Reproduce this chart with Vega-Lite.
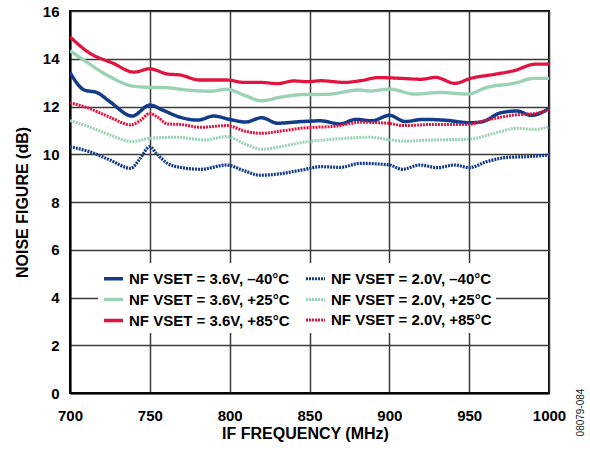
{
"$schema": "https://vega.github.io/schema/vega-lite/v6.json",
"width": 479, "height": 382,
"autosize": "none",
"padding": {"left": 70, "top": 11, "right": 41, "bottom": 57},
"background": "white",
"config": {"view": {"stroke": "black", "strokeWidth": 2}, "font": "Liberation Sans"},
"data": {"values": [
{"f":700,"v":13.42,"s":"NF VSET = 3.6V, –40°C"},{"f":709,"v":12.69,"s":"NF VSET = 3.6V, –40°C"},{"f":717,"v":12.58,"s":"NF VSET = 3.6V, –40°C"},{"f":725,"v":12.2,"s":"NF VSET = 3.6V, –40°C"},{"f":739,"v":11.6,"s":"NF VSET = 3.6V, –40°C"},{"f":750,"v":12.06,"s":"NF VSET = 3.6V, –40°C"},{"f":758,"v":11.85,"s":"NF VSET = 3.6V, –40°C"},{"f":769,"v":11.55,"s":"NF VSET = 3.6V, –40°C"},{"f":780,"v":11.43,"s":"NF VSET = 3.6V, –40°C"},{"f":790,"v":11.6,"s":"NF VSET = 3.6V, –40°C"},{"f":800,"v":11.46,"s":"NF VSET = 3.6V, –40°C"},{"f":810,"v":11.35,"s":"NF VSET = 3.6V, –40°C"},{"f":820,"v":11.53,"s":"NF VSET = 3.6V, –40°C"},{"f":830,"v":11.3,"s":"NF VSET = 3.6V, –40°C"},{"f":845,"v":11.37,"s":"NF VSET = 3.6V, –40°C"},{"f":857,"v":11.4,"s":"NF VSET = 3.6V, –40°C"},{"f":869,"v":11.27,"s":"NF VSET = 3.6V, –40°C"},{"f":879,"v":11.46,"s":"NF VSET = 3.6V, –40°C"},{"f":889,"v":11.4,"s":"NF VSET = 3.6V, –40°C"},{"f":900,"v":11.63,"s":"NF VSET = 3.6V, –40°C"},{"f":910,"v":11.37,"s":"NF VSET = 3.6V, –40°C"},{"f":921,"v":11.46,"s":"NF VSET = 3.6V, –40°C"},{"f":934,"v":11.43,"s":"NF VSET = 3.6V, –40°C"},{"f":951,"v":11.32,"s":"NF VSET = 3.6V, –40°C"},{"f":958,"v":11.36,"s":"NF VSET = 3.6V, –40°C"},{"f":970,"v":11.74,"s":"NF VSET = 3.6V, –40°C"},{"f":980,"v":11.81,"s":"NF VSET = 3.6V, –40°C"},{"f":989,"v":11.63,"s":"NF VSET = 3.6V, –40°C"},{"f":1000,"v":11.92,"s":"NF VSET = 3.6V, –40°C"},
{"f":700,"v":14.34,"s":"NF VSET = 3.6V, +25°C"},{"f":710,"v":13.88,"s":"NF VSET = 3.6V, +25°C"},{"f":725,"v":13.25,"s":"NF VSET = 3.6V, +25°C"},{"f":739,"v":12.86,"s":"NF VSET = 3.6V, +25°C"},{"f":750,"v":12.8,"s":"NF VSET = 3.6V, +25°C"},{"f":760,"v":12.79,"s":"NF VSET = 3.6V, +25°C"},{"f":773,"v":12.69,"s":"NF VSET = 3.6V, +25°C"},{"f":788,"v":12.64,"s":"NF VSET = 3.6V, +25°C"},{"f":798,"v":12.72,"s":"NF VSET = 3.6V, +25°C"},{"f":809,"v":12.48,"s":"NF VSET = 3.6V, +25°C"},{"f":820,"v":12.24,"s":"NF VSET = 3.6V, +25°C"},{"f":831,"v":12.38,"s":"NF VSET = 3.6V, +25°C"},{"f":846,"v":12.5,"s":"NF VSET = 3.6V, +25°C"},{"f":861,"v":12.51,"s":"NF VSET = 3.6V, +25°C"},{"f":881,"v":12.69,"s":"NF VSET = 3.6V, +25°C"},{"f":888,"v":12.65,"s":"NF VSET = 3.6V, +25°C"},{"f":900,"v":12.73,"s":"NF VSET = 3.6V, +25°C"},{"f":916,"v":12.52,"s":"NF VSET = 3.6V, +25°C"},{"f":932,"v":12.59,"s":"NF VSET = 3.6V, +25°C"},{"f":949,"v":12.52,"s":"NF VSET = 3.6V, +25°C"},{"f":961,"v":12.8,"s":"NF VSET = 3.6V, +25°C"},{"f":978,"v":12.97,"s":"NF VSET = 3.6V, +25°C"},{"f":991,"v":13.18,"s":"NF VSET = 3.6V, +25°C"},{"f":1000,"v":13.18,"s":"NF VSET = 3.6V, +25°C"},
{"f":700,"v":14.92,"s":"NF VSET = 3.6V, +85°C"},{"f":712,"v":14.25,"s":"NF VSET = 3.6V, +85°C"},{"f":727,"v":13.81,"s":"NF VSET = 3.6V, +85°C"},{"f":740,"v":13.44,"s":"NF VSET = 3.6V, +85°C"},{"f":750,"v":13.58,"s":"NF VSET = 3.6V, +85°C"},{"f":761,"v":13.36,"s":"NF VSET = 3.6V, +85°C"},{"f":769,"v":13.32,"s":"NF VSET = 3.6V, +85°C"},{"f":781,"v":13.11,"s":"NF VSET = 3.6V, +85°C"},{"f":798,"v":13.11,"s":"NF VSET = 3.6V, +85°C"},{"f":809,"v":13.01,"s":"NF VSET = 3.6V, +85°C"},{"f":819,"v":13.01,"s":"NF VSET = 3.6V, +85°C"},{"f":830,"v":12.96,"s":"NF VSET = 3.6V, +85°C"},{"f":840,"v":13.07,"s":"NF VSET = 3.6V, +85°C"},{"f":849,"v":13.04,"s":"NF VSET = 3.6V, +85°C"},{"f":857,"v":13.08,"s":"NF VSET = 3.6V, +85°C"},{"f":872,"v":13.01,"s":"NF VSET = 3.6V, +85°C"},{"f":882,"v":13.08,"s":"NF VSET = 3.6V, +85°C"},{"f":893,"v":13.21,"s":"NF VSET = 3.6V, +85°C"},{"f":907,"v":13.18,"s":"NF VSET = 3.6V, +85°C"},{"f":920,"v":13.14,"s":"NF VSET = 3.6V, +85°C"},{"f":929,"v":13.22,"s":"NF VSET = 3.6V, +85°C"},{"f":941,"v":12.97,"s":"NF VSET = 3.6V, +85°C"},{"f":951,"v":13.18,"s":"NF VSET = 3.6V, +85°C"},{"f":966,"v":13.35,"s":"NF VSET = 3.6V, +85°C"},{"f":978,"v":13.5,"s":"NF VSET = 3.6V, +85°C"},{"f":991,"v":13.77,"s":"NF VSET = 3.6V, +85°C"},{"f":1000,"v":13.78,"s":"NF VSET = 3.6V, +85°C"},
{"f":700,"v":10.32,"s":"NF VSET = 2.0V, –40°C"},{"f":712,"v":10.11,"s":"NF VSET = 2.0V, –40°C"},{"f":725,"v":9.76,"s":"NF VSET = 2.0V, –40°C"},{"f":738,"v":9.41,"s":"NF VSET = 2.0V, –40°C"},{"f":744,"v":9.83,"s":"NF VSET = 2.0V, –40°C"},{"f":750,"v":10.32,"s":"NF VSET = 2.0V, –40°C"},{"f":754,"v":10.04,"s":"NF VSET = 2.0V, –40°C"},{"f":761,"v":9.62,"s":"NF VSET = 2.0V, –40°C"},{"f":769,"v":9.45,"s":"NF VSET = 2.0V, –40°C"},{"f":782,"v":9.37,"s":"NF VSET = 2.0V, –40°C"},{"f":798,"v":9.55,"s":"NF VSET = 2.0V, –40°C"},{"f":809,"v":9.31,"s":"NF VSET = 2.0V, –40°C"},{"f":819,"v":9.12,"s":"NF VSET = 2.0V, –40°C"},{"f":830,"v":9.17,"s":"NF VSET = 2.0V, –40°C"},{"f":846,"v":9.35,"s":"NF VSET = 2.0V, –40°C"},{"f":857,"v":9.48,"s":"NF VSET = 2.0V, –40°C"},{"f":869,"v":9.45,"s":"NF VSET = 2.0V, –40°C"},{"f":882,"v":9.62,"s":"NF VSET = 2.0V, –40°C"},{"f":900,"v":9.55,"s":"NF VSET = 2.0V, –40°C"},{"f":908,"v":9.37,"s":"NF VSET = 2.0V, –40°C"},{"f":919,"v":9.55,"s":"NF VSET = 2.0V, –40°C"},{"f":930,"v":9.44,"s":"NF VSET = 2.0V, –40°C"},{"f":941,"v":9.55,"s":"NF VSET = 2.0V, –40°C"},{"f":950,"v":9.44,"s":"NF VSET = 2.0V, –40°C"},{"f":961,"v":9.69,"s":"NF VSET = 2.0V, –40°C"},{"f":974,"v":9.87,"s":"NF VSET = 2.0V, –40°C"},{"f":987,"v":9.9,"s":"NF VSET = 2.0V, –40°C"},{"f":1000,"v":9.97,"s":"NF VSET = 2.0V, –40°C"},
{"f":700,"v":11.41,"s":"NF VSET = 2.0V, +25°C"},{"f":712,"v":11.15,"s":"NF VSET = 2.0V, +25°C"},{"f":725,"v":10.81,"s":"NF VSET = 2.0V, +25°C"},{"f":739,"v":10.53,"s":"NF VSET = 2.0V, +25°C"},{"f":750,"v":10.67,"s":"NF VSET = 2.0V, +25°C"},{"f":767,"v":10.71,"s":"NF VSET = 2.0V, +25°C"},{"f":784,"v":10.6,"s":"NF VSET = 2.0V, +25°C"},{"f":798,"v":10.74,"s":"NF VSET = 2.0V, +25°C"},{"f":811,"v":10.39,"s":"NF VSET = 2.0V, +25°C"},{"f":820,"v":10.21,"s":"NF VSET = 2.0V, +25°C"},{"f":832,"v":10.32,"s":"NF VSET = 2.0V, +25°C"},{"f":846,"v":10.5,"s":"NF VSET = 2.0V, +25°C"},{"f":865,"v":10.63,"s":"NF VSET = 2.0V, +25°C"},{"f":888,"v":10.71,"s":"NF VSET = 2.0V, +25°C"},{"f":901,"v":10.6,"s":"NF VSET = 2.0V, +25°C"},{"f":909,"v":10.55,"s":"NF VSET = 2.0V, +25°C"},{"f":928,"v":10.6,"s":"NF VSET = 2.0V, +25°C"},{"f":950,"v":10.63,"s":"NF VSET = 2.0V, +25°C"},{"f":966,"v":10.88,"s":"NF VSET = 2.0V, +25°C"},{"f":980,"v":11.09,"s":"NF VSET = 2.0V, +25°C"},{"f":991,"v":11.04,"s":"NF VSET = 2.0V, +25°C"},{"f":1000,"v":11.15,"s":"NF VSET = 2.0V, +25°C"},
{"f":700,"v":12.16,"s":"NF VSET = 2.0V, +85°C"},{"f":712,"v":11.92,"s":"NF VSET = 2.0V, +85°C"},{"f":725,"v":11.55,"s":"NF VSET = 2.0V, +85°C"},{"f":738,"v":11.23,"s":"NF VSET = 2.0V, +85°C"},{"f":744,"v":11.41,"s":"NF VSET = 2.0V, +85°C"},{"f":750,"v":11.71,"s":"NF VSET = 2.0V, +85°C"},{"f":755,"v":11.55,"s":"NF VSET = 2.0V, +85°C"},{"f":761,"v":11.27,"s":"NF VSET = 2.0V, +85°C"},{"f":769,"v":11.25,"s":"NF VSET = 2.0V, +85°C"},{"f":782,"v":11.13,"s":"NF VSET = 2.0V, +85°C"},{"f":798,"v":11.2,"s":"NF VSET = 2.0V, +85°C"},{"f":811,"v":10.94,"s":"NF VSET = 2.0V, +85°C"},{"f":820,"v":10.88,"s":"NF VSET = 2.0V, +85°C"},{"f":832,"v":10.97,"s":"NF VSET = 2.0V, +85°C"},{"f":846,"v":11.1,"s":"NF VSET = 2.0V, +85°C"},{"f":867,"v":11.18,"s":"NF VSET = 2.0V, +85°C"},{"f":882,"v":11.34,"s":"NF VSET = 2.0V, +85°C"},{"f":899,"v":11.3,"s":"NF VSET = 2.0V, +85°C"},{"f":909,"v":11.2,"s":"NF VSET = 2.0V, +85°C"},{"f":928,"v":11.25,"s":"NF VSET = 2.0V, +85°C"},{"f":949,"v":11.25,"s":"NF VSET = 2.0V, +85°C"},{"f":961,"v":11.43,"s":"NF VSET = 2.0V, +85°C"},{"f":978,"v":11.64,"s":"NF VSET = 2.0V, +85°C"},{"f":991,"v":11.71,"s":"NF VSET = 2.0V, +85°C"},{"f":1000,"v":11.85,"s":"NF VSET = 2.0V, +85°C"}
]},
"encoding": {
"x": {"field": "f", "type": "quantitative", "scale": {"domain": [700, 1000], "nice": false, "zero": false},
 "axis": {"title": "IF FREQUENCY (MHz)", "format": "d", "values": [700,750,800,850,900,950,1000], "grid": true, "ticks": false, "labelFontWeight": "bold", "labelFontSize": 15, "labelColor": "black", "labelPadding": 15, "labelFlush": false, "titleFontSize": 16, "titleFontWeight": "bold", "titleColor": "black", "titlePadding": 2, "titleX": 235, "domainColor": "black", "domainWidth": 2, "gridColor": "#3a3a3a", "gridWidth": 1.5, "gridOpacity": 1}}
},
"layer": [
{
"mark": {"type": "line", "interpolate": "monotone", "clip": true},
"encoding": {
"y": {"field": "v", "type": "quantitative", "scale": {"domain": [0, 16], "nice": false},
 "axis": {"title": "NOISE FIGURE (dB)", "values": [0,2,4,6,8,10,12,14,16], "grid": true, "ticks": false, "labelFontWeight": "bold", "labelFontSize": 15, "labelColor": "black", "labelPadding": 11, "titleFontSize": 16, "titleFontWeight": "bold", "titleColor": "black", "titlePadding": 12, "domainColor": "black", "domainWidth": 2, "gridColor": "#3a3a3a", "gridWidth": 1.5, "gridOpacity": 1}},
"color": {"field": "s", "type": "nominal",
 "scale": {"domain": ["NF VSET = 3.6V, –40°C","NF VSET = 3.6V, +25°C","NF VSET = 3.6V, +85°C","NF VSET = 2.0V, –40°C","NF VSET = 2.0V, +25°C","NF VSET = 2.0V, +85°C"],
  "range": ["#123b88","#9bd2b6","#e0143f","#123b88","#9bd2b6","#e0143f"]},
 "legend": {"orient": "none", "legendX": 28, "legendY": 252, "columns": 2, "title": null, "fillColor": "white", "padding": 4, "labelFontSize": 15, "labelFontWeight": "bold", "labelColor": "black", "symbolType": "stroke", "symbolSize": 361, "rowPadding": 1, "columnPadding": 9, "labelOffset": 4, "labelLimit": 300}},
"strokeDash": {"field": "s", "type": "nominal",
 "scale": {"domain": ["NF VSET = 3.6V, –40°C","NF VSET = 3.6V, +25°C","NF VSET = 3.6V, +85°C","NF VSET = 2.0V, –40°C","NF VSET = 2.0V, +25°C","NF VSET = 2.0V, +85°C"],
  "range": [[1,0],[1,0],[1,0],[2,1],[2,1],[2,1]]}},
"strokeWidth": {"field": "s", "type": "nominal",
 "scale": {"domain": ["NF VSET = 3.6V, –40°C","NF VSET = 3.6V, +25°C","NF VSET = 3.6V, +85°C","NF VSET = 2.0V, –40°C","NF VSET = 2.0V, +25°C","NF VSET = 2.0V, +85°C"],
  "range": [3.5,3,1.8,3.5,2.6,2]}}
}
},
{
"mark": {"type": "line", "strokeOpacity": 0},
"encoding": {
"y": {"field": "v", "type": "quantitative", "scale": {"domain": [0, 16], "nice": false},
 "axis": {"orient": "right", "title": "08079-084", "labels": false, "ticks": false, "domain": false, "grid": false, "titleAngle": 270, "titleFontSize": 10, "titleFontWeight": "normal", "titleColor": "#222", "titleX": 31, "titleY": 401, "titleAlign": "center", "titleBaseline": "middle"}},
"detail": {"field": "s"}
}
}
],
"resolve": {"scale": {"y": "independent"}}
}
